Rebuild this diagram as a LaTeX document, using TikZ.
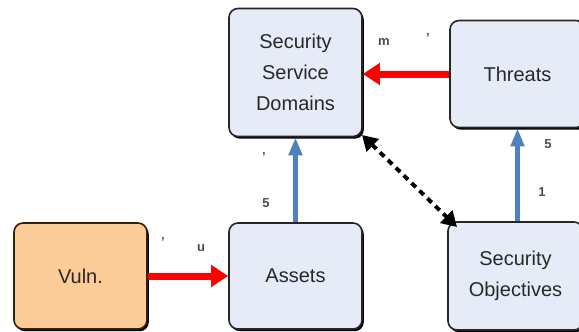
\documentclass[tikz,border=0pt]{standalone}
\usepackage{fontspec}
\setmainfont{Liberation Sans}
\usetikzlibrary{arrows.meta,shadows}
\definecolor{boxblue}{RGB}{230,236,247}
\definecolor{boxpeach}{RGB}{252,204,153}
\definecolor{linkblue}{RGB}{79,129,189}
\definecolor{txt}{RGB}{40,40,40}
\tikzset{
  entity/.style={draw=black!85, line width=1.6pt, rounded corners=9pt,
    fill=boxblue, minimum width=133pt, minimum height=106pt, inner sep=0pt,
    align=center, font=\fontsize{20}{31}\selectfont, text=txt,
    drop shadow={shadow xshift=1.8pt, shadow yshift=-2.2pt, fill=black, opacity=1}},
  redlink/.style={draw=red, line width=7pt, -{Triangle[length=17pt,width=21pt]}},
  bluelink/.style={draw=linkblue, line width=5pt, -{Triangle[length=18pt,width=13pt]}},
  duallink/.style={draw=black, line width=4pt, dash pattern=on 6pt off 5pt,
    {Triangle[length=15pt,width=17pt]}-{Triangle[length=15pt,width=17pt]}},
  mult/.style={font=\bfseries\fontsize{13}{13}\selectfont, text=black!70, inner sep=0pt}
}
\begin{document}
\begin{tikzpicture}[x=1pt, y=-1pt]
\useasboundingbox (0,0) rectangle (579,332);
\clip (0,0) rectangle (579,332);
% entity boxes
\node[entity, minimum height=128pt] (ssd) at (295.5,72.5) {Security\\Service\\Domains};
\node[entity, minimum width=135pt, minimum height=107pt] (thr) at (517.5,74) {Threats};
\node[entity, fill=boxpeach, draw=black!75!brown] (vul) at (80.5,276) {Vuln.};
\node[entity] (ass) at (295.5,276) {Assets};
\node[entity, minimum width=135pt, minimum height=108pt] (obj) at (515.5,276) {Security\\Objectives};
% relations
\draw[redlink] (thr.west) -- (thr.west -| ssd.east);
\draw[redlink] (vul.east) -- (ass.west);
\draw[bluelink] (ass.north) -- (ssd.south);
\draw[bluelink] (obj.north -| thr.south) -- (thr.south);
\coordinate (dA) at (362,135);
\coordinate (dB) at (457,227);
\draw[duallink] (dA) -- (dB);
% multiplicity marks
\node[mult] (m1) at (384,42) {m};
\node[mult] (m2) at (428,38) {'};
\node[mult] (m3) at (264,157) {'};
\node[mult] (m4) at (266,203) {5};
\node[mult] (m5) at (163,242) {'};
\node[mult] (m6) at (201,248) {u};
\node[mult] (m7) at (548,144) {5};
\node[mult] (m8) at (542,192) {1};
\end{tikzpicture}
\end{document}
